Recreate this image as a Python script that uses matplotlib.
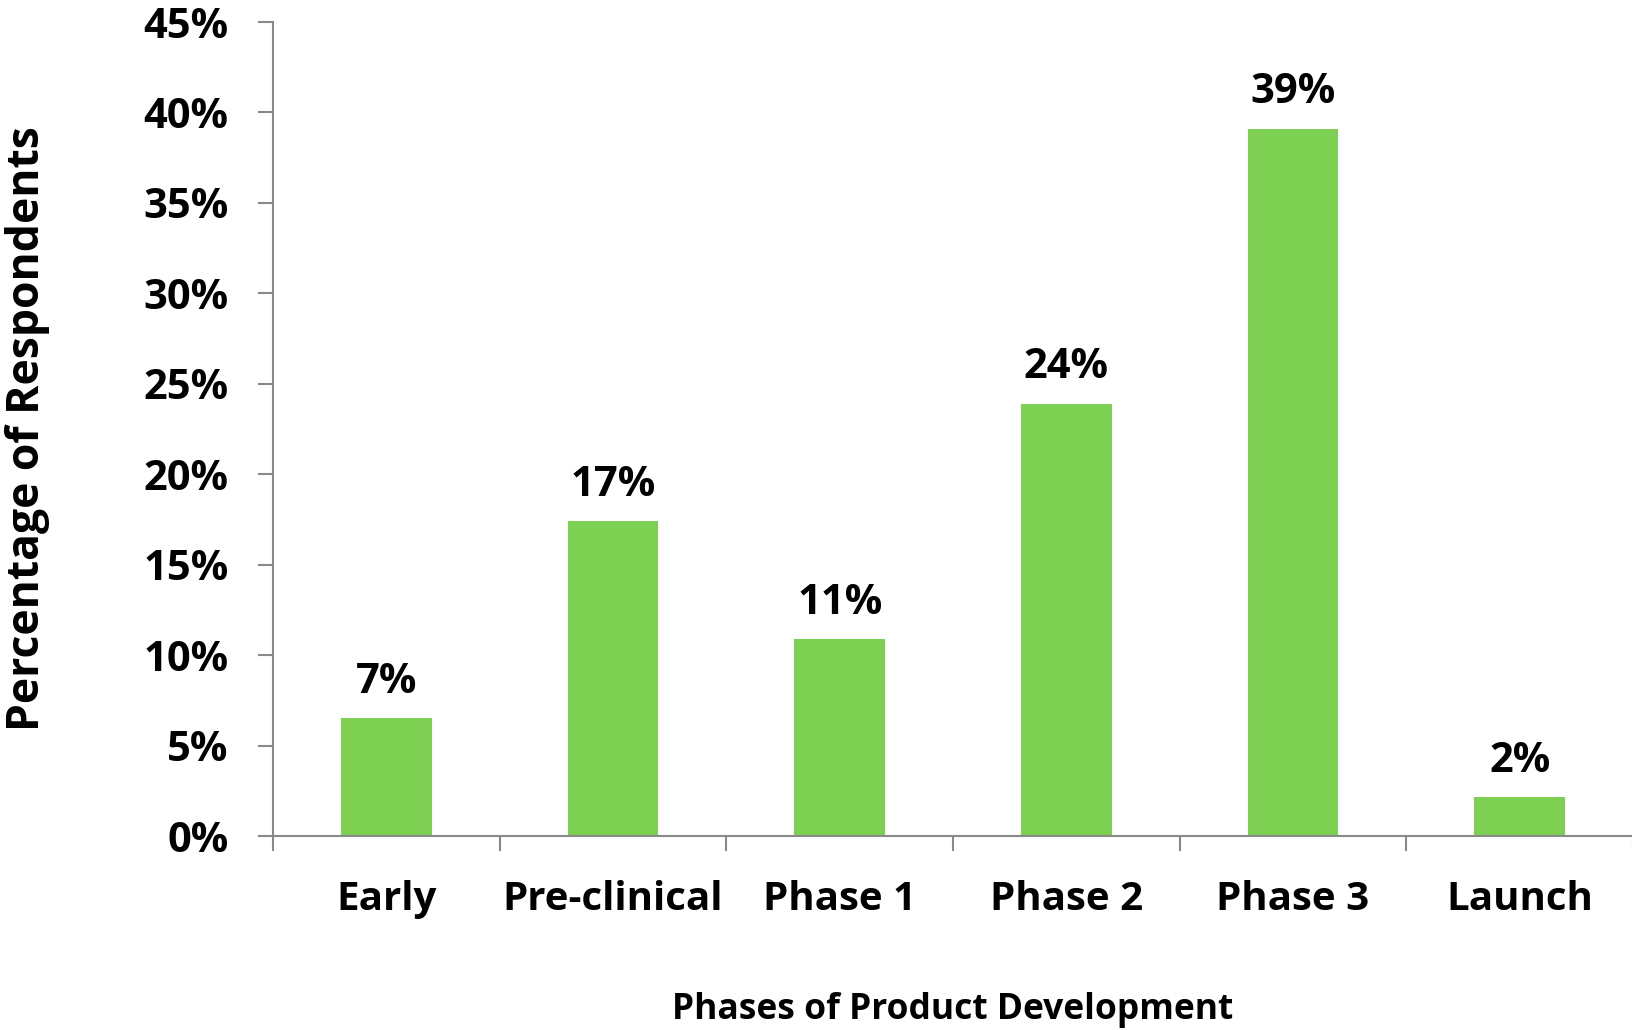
import matplotlib
matplotlib.use('Agg')
import matplotlib.pyplot as plt
import numpy as np

plt.rcParams['font.family'] = ['Open Sans', 'DejaVu Sans']
plt.rcParams['font.weight'] = 'bold'

phases = ['Early', 'Pre-clinical', 'Phase 1', 'Phase 2', 'Phase 3', 'Launch']
shares = [6.5, 17.4, 10.9, 23.9, 39.1, 2.15]
labels = ['7%', '17%', '11%', '24%', '39%', '2%']

bar_color = '#7ed053'
axis_color = '#898989'

fig = plt.figure(figsize=(16.33, 10.30), dpi=100)
ax = fig.add_axes([273 / 1633, 1 - 836 / 1030, 1 - 273 / 1633, (836 - 22) / 1030])

x = np.arange(len(phases))
bars = ax.bar(x, shares, width=0.4, color=bar_color, zorder=2)

# value labels on top of bars
for b, lab in zip(bars, labels):
    ax.annotate(lab, (b.get_x() + b.get_width() / 2, b.get_height()),
                xytext=(0, 11), textcoords='offset points',
                ha='center', va='bottom', fontsize=30, fontweight='bold')

ax.set_xlim(-0.5, len(phases) - 0.5)
ax.set_ylim(0, 45)
ax.set_yticks(np.arange(0, 46, 5))
ax.set_yticklabels([f'{v}%' for v in range(0, 46, 5)])

ax.set_xticks(x)
ax.set_xticklabels(phases)
ax.set_xticks(np.arange(-0.5, len(phases)), minor=True)

for s in ['top', 'right']:
    ax.spines[s].set_visible(False)
for s in ['left', 'bottom']:
    ax.spines[s].set_color(axis_color)
    ax.spines[s].set_linewidth(1.5)

ax.tick_params(axis='y', length=11, width=1.5, color=axis_color, pad=21, labelsize=30)
ax.tick_params(axis='x', which='major', length=0, pad=32, labelsize=29)
ax.tick_params(axis='x', which='minor', length=11, width=1.5, color=axis_color)

ax.set_xlabel('Phases of Product Development', fontsize=25.5, fontweight='bold', labelpad=52)
ax.set_ylabel('Percentage of Respondents', fontsize=32, fontweight='bold')
ax.yaxis.set_label_coords(-0.164, 0.5)

fig.savefig('out.png', dpi=100)
